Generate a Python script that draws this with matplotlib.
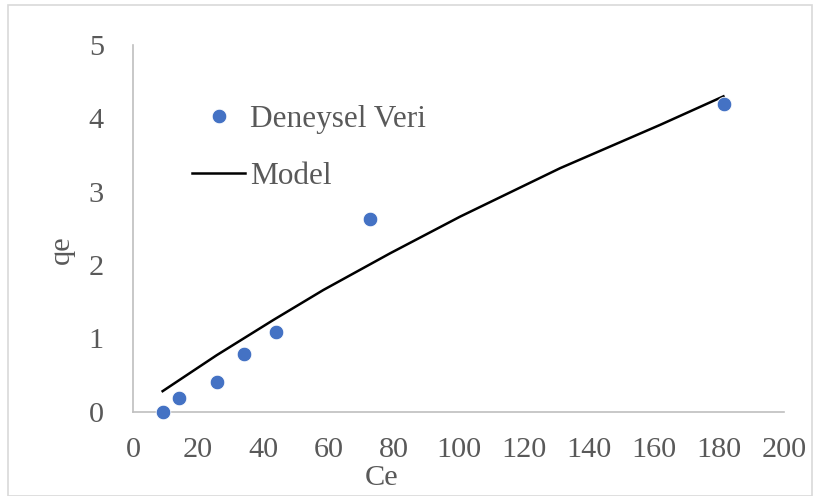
import matplotlib
matplotlib.use("Agg")
import matplotlib.pyplot as plt
from matplotlib.patches import Rectangle

# Data
ce_exp = [9.3, 14.0, 25.9, 34.2, 43.8, 72.8, 181.7]
qe_exp = [0.0, 0.18, 0.41, 0.78, 1.09, 2.63, 4.19]

ce_model = [9.1, 25.7, 43.1, 58.5, 79.0, 100.5, 131.2, 161.9, 181.4]
qe_model = [0.28, 0.77, 1.25, 1.66, 2.16, 2.66, 3.32, 3.91, 4.30]

x_ticks = [0, 20, 40, 60, 80, 100, 120, 140, 160, 180, 200]
y_ticks = [0, 1, 2, 3, 4, 5]

plt.rcParams['font.family'] = ['Liberation Serif', 'DejaVu Serif']
txt = '#595959'
FS = 21.8
W, H = 817, 496
fig = plt.figure(figsize=(W / 100, H / 100), dpi=100)
fig.patches.append(Rectangle((8 / W, 0), (812 - 8) / W, (496 - 5) / H,
                             transform=fig.transFigure, fill=False,
                             edgecolor='#d9d9d9', linewidth=1.2))
ax = fig.add_axes([133 / W, 1 - 411.7 / H, (784 - 133) / W, (411.7 - 45) / H])

ax.plot(ce_model, qe_model, color='black', linewidth=1.8, label='Model', zorder=2,
        solid_joinstyle='round')
ax.plot(ce_exp, qe_exp, linestyle='none', marker='o', markersize=10.5,
        color='#4472c4', markeredgecolor='white', markeredgewidth=0.6,
        label='Deneysel Veri', zorder=3, clip_on=False)

ax.set_xlim(0, 200)
ax.set_ylim(0, 5)
ax.set_xticks(x_ticks)
ax.set_yticks(y_ticks)
ax.tick_params(length=0, labelsize=FS, labelcolor=txt)
ax.tick_params(axis='y', pad=21)
ax.tick_params(axis='x', pad=18)
for s in ['top', 'right']:
    ax.spines[s].set_visible(False)
for s in ['left', 'bottom']:
    ax.spines[s].set_color('#bfbfbf')
    ax.spines[s].set_linewidth(1.2)

fig.text(382 / W, 1 - 478 / H, 'Ce', ha='center', va='center', fontsize=FS, color=txt)
fig.text(62 / W, 1 - 250 / H, 'qe', ha='center', va='center', fontsize=FS,
         color=txt, rotation=90)

# legend
handles, labels = ax.get_legend_handles_labels()
leg = ax.legend(handles[::-1], labels[::-1], loc='upper left',
                bbox_to_anchor=((192 - 133) / (784 - 133), (411.7 - 105) / (411.7 - 45)),
                frameon=False, fontsize=22.5, labelcolor=txt, handlelength=1.7,
                handletextpad=0.15, labelspacing=0.9, borderpad=0, borderaxespad=0)

fig.savefig('out.png', dpi=100)
